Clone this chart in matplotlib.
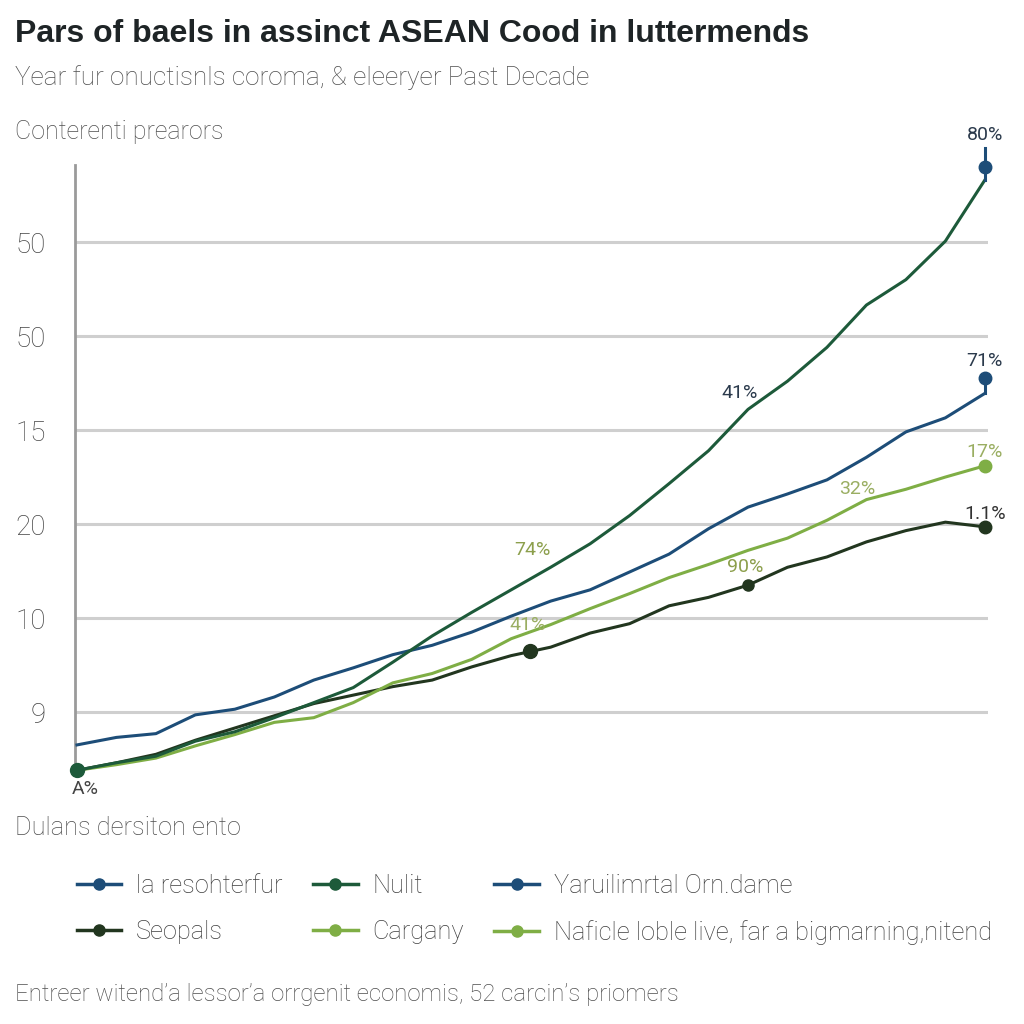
import matplotlib
matplotlib.use("Agg")
import matplotlib.pyplot as plt
from matplotlib.lines import Line2D

# ---- data -------------------------------------------------------------
x = list(range(24))
ytick_pos = [0, 1, 2, 3, 4, 5]
ytick_labels = ["9", "10", "20", "15", "50", "50"]

steep_green = [-0.62, -0.54, -0.47, -0.31, -0.21, -0.06, 0.10, 0.26, 0.53, 0.81,
               1.06, 1.30, 1.54, 1.79, 2.09, 2.43, 2.78, 3.22, 3.52, 3.88,
               4.33, 4.60, 5.01, 5.66]
blue = [-0.35, -0.27, -0.23, -0.03, 0.03, 0.16, 0.34, 0.47, 0.61, 0.71,
        0.85, 1.02, 1.18, 1.30, 1.49, 1.68, 1.95, 2.18, 2.32, 2.47,
        2.71, 2.98, 3.13, 3.39]
light_green = [-0.62, -0.56, -0.49, -0.36, -0.24, -0.11, -0.06, 0.10, 0.31, 0.41,
               0.56, 0.78, 0.93, 1.10, 1.26, 1.43, 1.57, 1.72, 1.85, 2.04,
               2.26, 2.37, 2.50, 2.62]
dark = [-0.62, -0.54, -0.45, -0.30, -0.17, -0.04, 0.09, 0.18, 0.27, 0.34,
        0.48, 0.60, 0.69, 0.84, 0.94, 1.13, 1.22, 1.35, 1.54, 1.65,
        1.81, 1.93, 2.02, 1.97]

# end "flag" markers (x, y_from, y_marker, y_top)
steep_end = (23, 5.66, 5.80, 6.00)
blue_end = (23, 3.39, 3.55)

# point labels: (x, y, text, color)
point_labels = [
    (23.0, 6.14, "80%", "#2b3a4c"),
    (23.0, 3.74, "71%", "#2b3a4c"),
    (16.8, 3.39, "41%", "#2b3a4c"),
    (11.55, 1.72, "74%", "#8c9f4c"),
    (11.42, 0.93, "41%", "#9aae62"),
    (16.92, 1.54, "90%", "#8c9f4c"),
    (19.78, 2.37, "32%", "#9aae62"),
    (23.0, 2.77, "17%", "#9aae62"),
    (23.0, 2.11, "1.1%", "#333333"),
    (0.22, -0.82, "A%", "#444444"),
]

legend_labels = ["la resohterfur", "Seopals", "Nulit", "Cargany",
                 "Yaruilimrtal Orn.dame", "Naficle loble live, far a bigmarning,nitend"]

# ---- style ------------------------------------------------------------
C_BLUE = "#1d4d78"
C_GREEN = "#1d5a3a"
C_DARK = "#22361f"
C_LIGHT = "#7fae45"
GRID = "#cfcfcf"
TXT = "#4e4e4e"

plt.rcParams['font.family'] = ['Roboto', 'DejaVu Sans']

fig = plt.figure(figsize=(10.24, 10.24), dpi=100)
ax = fig.add_axes([75/1024, 1 - 775/1024, (988 - 75)/1024, (775 - 165)/1024])

ax.set_xlim(-0.05, 23.08)
ax.set_ylim(-0.67, 5.82)

for v in ytick_pos:
    ax.axhline(v, color=GRID, lw=2.2, zorder=1)

lw = 2.2
ax.plot(x, blue, color=C_BLUE, lw=lw, zorder=3)
ax.plot(x, dark, color=C_DARK, lw=lw, zorder=3)
ax.plot(x, light_green, color=C_LIGHT, lw=lw, zorder=3)
ax.plot(x, steep_green, color=C_GREEN, lw=lw, zorder=4)

# flags at the ends
ax.plot([steep_end[0]] * 2, [steep_end[1], steep_end[3]], color=C_BLUE, lw=2.2, zorder=4, clip_on=False)
ax.plot([steep_end[0]], [steep_end[2]], 'o', color=C_BLUE, ms=9, zorder=5, clip_on=False)
ax.plot([blue_end[0]] * 2, [blue_end[1], blue_end[2]], color=C_BLUE, lw=2.2, zorder=4)
ax.plot([blue_end[0]], [blue_end[2]], 'o', color=C_BLUE, ms=9, zorder=5, clip_on=False)
ax.plot([x[-1]], [light_green[-1]], 'o', color=C_LIGHT, ms=9, zorder=5, clip_on=False)
ax.plot([x[-1]], [dark[-1]], 'o', color=C_DARK, ms=9, zorder=5, clip_on=False)
ax.plot([x[0]], [dark[0]], 'o', color=C_GREEN, ms=10, zorder=5, clip_on=False)
ax.plot([11.47], [0.65], 'o', color=C_DARK, ms=10, zorder=5)
ax.plot([x[17]], [dark[17]], 'o', color=C_DARK, ms=8, zorder=5)

for px, py, t, c in point_labels:
    ax.text(px, py, t, color=c, fontsize=14, ha='center', va='center', zorder=6, clip_on=False)

ax.set_yticks(ytick_pos)
ax.set_yticklabels(ytick_labels, fontsize=20, color="#444444", fontweight='light')
ax.tick_params(axis='y', length=0, pad=21)
ax.set_xticks([])
for s in ['top', 'right', 'bottom']:
    ax.spines[s].set_visible(False)
ax.spines['left'].set_color("#9a9a9a")
ax.spines['left'].set_linewidth(2)

# ---- texts ----------------------------------------------------------------
fig.text(15/1024, 1 - 34/1024, "Pars of baels in assinct ASEAN Cood in luttermends",
         fontsize=23, fontweight='bold', color="#1e2426", ha='left', va='center',
         family=['Liberation Sans', 'DejaVu Sans'])
fig.text(15/1024, 1 - 78/1024, "Year fur onuctisnls coroma, & eleeryer Past Decade",
         fontsize=18.8, color=TXT, ha='left', va='center', fontweight='light')
fig.text(15/1024, 1 - 132/1024, "Conterenti prearors",
         fontsize=18, color=TXT, ha='left', va='center', fontweight='light')
fig.text(15/1024, 1 - 828/1024, "Dulans dersiton ento",
         fontsize=18.3, color=TXT, ha='left', va='center', fontweight='light')
fig.text(15/1024, 1 - 995/1024, "Entreer witend\u2019a lessor\u2019a orrgenit economis, 52 carcin\u2019s priomers",
         fontsize=17.3, color=TXT, ha='left', va='center', fontweight='light')

# ---- legend ---------------------------------------------------------------
legend_colors = [C_BLUE, C_DARK, C_GREEN, C_LIGHT, C_BLUE, C_LIGHT]
handles = [Line2D([0], [0], color=c, lw=2.5, marker='o', ms=8) for c in legend_colors]
leg = fig.legend(handles, legend_labels, ncol=3, loc='upper left',
                 bbox_to_anchor=(77/1024, 1 - 874/1024), frameon=False,
                 borderaxespad=0, borderpad=0,
                 prop={'size': 18.3, 'weight': 'light'},
                 handlelength=1.75, handletextpad=0.58,
                 columnspacing=1.2, labelspacing=0.88, labelcolor="#3e3e3e")

fig.savefig("out.png", dpi=100, facecolor='white')
